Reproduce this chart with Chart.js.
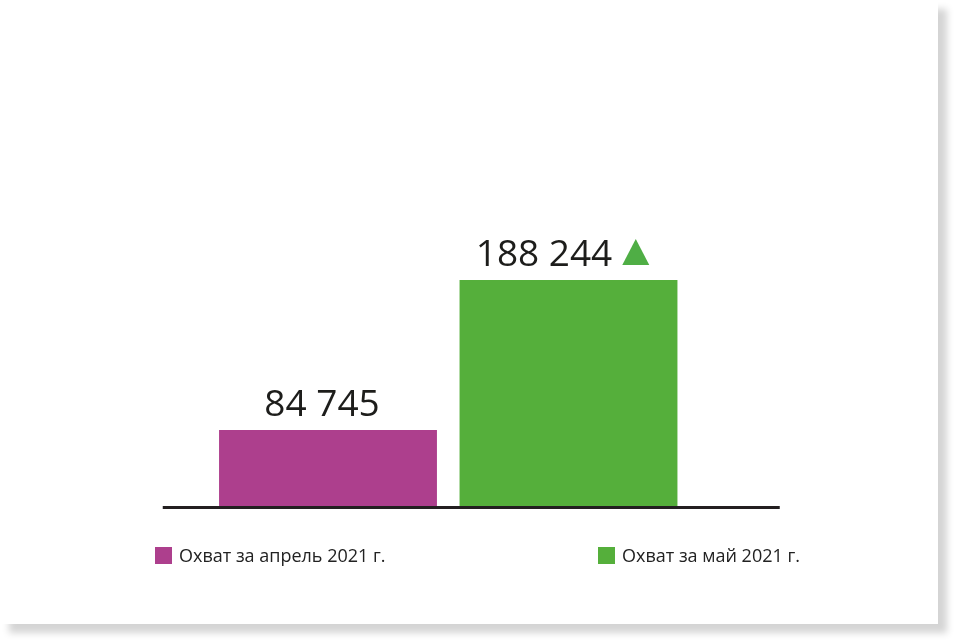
<!DOCTYPE html>
<html lang="ru">
<head>
<meta charset="utf-8">
<title>Охват</title>
<script src="https://cdn.jsdelivr.net/npm/chart.js@4.4.1/dist/chart.umd.min.js"></script>
<style>
  html, body { margin: 0; padding: 0; background: #fff; }
  body { width: 958px; height: 643px; position: relative; overflow: hidden; font-family: 'Open Sans', sans-serif; }
  .card { position: absolute; left: 0; top: 0; width: 938px; height: 624px; background: #fff; box-shadow: 9px 9px 7px rgba(0,0,0,0.17); }
  .wrap { position: absolute; left: 0; top: 0; width: 958px; height: 643px; }
  .legend .item { position: absolute; top: 543px; display: flex; align-items: center; font-size: 18px; line-height: 24px; color: #222; white-space: nowrap; }
  .legend .swatch { width: 17px; height: 17px; margin-right: 7px; }
</style>
</head>
<body>
<div class="card"></div>
<div class="wrap"><canvas id="reach-chart"></canvas></div>
<div class="legend" id="legend"></div>
<script>
// data
const categories = ['Охват за апрель 2021 г.', 'Охват за май 2021 г.'];
const reach = [84745, 188244];

// styles
const barColors = ['#ad3f8d', '#55af3b'];
const arrowColor = '#4fae45';
const inkColor = '#1d1d1b';
const legendLeft = [155, 598];

function fmt(v) {
  return String(v).replace(/\B(?=(\d{3})+(?!\d))/g, ' ');
}

// dark base line under the bars, a bit wider than the plot
const baseline = {
  id: 'baseline',
  afterDatasetsDraw(chart) {
    const { ctx, chartArea } = chart;
    const y = chart.scales.y.getPixelForValue(chart.scales.y.min);
    ctx.save();
    ctx.strokeStyle = '#231f20';
    ctx.lineWidth = 3;
    ctx.beginPath();
    ctx.moveTo(chartArea.left - 45, y + 0.5);
    ctx.lineTo(chartArea.right + 91, y + 0.5);
    ctx.stroke();
    ctx.restore();
  },
};

// value above each bar, green arrow when it grew
const valueLabels = {
  id: 'valueLabels',
  afterDatasetsDraw(chart) {
    const { ctx } = chart;
    const meta = chart.getDatasetMeta(0);
    ctx.save();
    ctx.font = '400 37px "Open Sans"';
    ctx.textAlign = 'left';
    ctx.textBaseline = 'alphabetic';
    meta.data.forEach((bar, i) => {
      const text = fmt(reach[i]);
      const tw = ctx.measureText(text).width;
      const up = i > 0 && reach[i] > reach[i - 1];
      const triW = 27, triH = 26, gap = 10;
      const total = tw + (up ? gap + triW : 0);
      const x0 = bar.x - 6 - total / 2;
      const y = bar.y - 14;
      ctx.fillStyle = inkColor;
      ctx.fillText(text, x0, y);
      if (up) {
        const tx = x0 + tw + gap;
        ctx.fillStyle = arrowColor;
        ctx.beginPath();
        ctx.moveTo(tx, y - 1);
        ctx.lineTo(tx + triW, y - 1);
        ctx.lineTo(tx + triW / 2, y - 1 - triH);
        ctx.closePath();
        ctx.fill();
      }
    });
    ctx.restore();
  },
};

function renderLegend() {
  const box = document.getElementById('legend');
  categories.forEach((name, i) => {
    const item = document.createElement('div');
    item.className = 'item';
    item.style.left = legendLeft[i] + 'px';
    item.innerHTML = `<span class="swatch" style="background:${barColors[i]}"></span><span>${name}</span>`;
    box.appendChild(item);
  });
}

Chart.defaults.font.family = "'Open Sans', sans-serif";

new Chart(document.getElementById('reach-chart'), {
  type: 'bar',
  data: {
    labels: categories,
    datasets: [{
      data: reach,
      backgroundColor: barColors,
      barPercentage: 0.906,
      categoryPercentage: 1,
    }],
  },
  options: {
    responsive: true,
    maintainAspectRatio: false,
    animation: false,
    layout: { padding: { left: 207.75, right: 269.25, top: 60, bottom: 136 } },
    plugins: { legend: { display: false }, tooltip: { enabled: false } },
    scales: {
      x: { display: false },
      y: { display: false, min: 31600, max: 340000 },
    },
  },
  plugins: [baseline, valueLabels],
});

renderLegend();
</script>
</body>
</html>
